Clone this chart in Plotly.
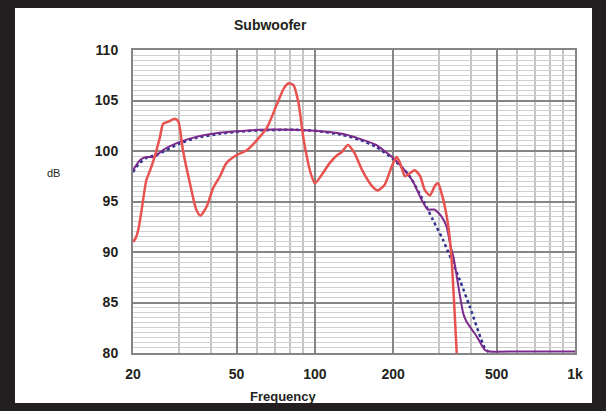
import plotly.graph_objects as go

# ---- data ----
red_freq = [20.0, 20.5, 21.0, 21.6, 22.5, 23.2, 24.2, 25.4, 26.1, 27.3, 29.0, 29.9, 31.1, 33.1, 35.0,
            36.3, 38.4, 40.6, 43.2, 45.7, 50.1, 54.9, 60.0, 65.7, 71.4, 76.0, 79.3, 82.9, 86.6, 90.6,
            96.4, 100, 105.4, 114, 122, 127, 134, 142, 152, 165, 174, 185, 197, 206, 212, 222, 232,
            242, 254, 265, 277, 290, 298, 307, 316, 326, 335, 343, 351]
red_db = [91.0, 91.4, 92.3, 94.2, 97.1, 98.0, 99.4, 101.4, 102.7, 102.9, 103.2, 102.9, 100.1, 96.8, 94.2,
          93.6, 94.5, 96.3, 97.5, 98.8, 99.6, 100.1, 101.1, 102.4, 104.6, 106.2, 106.7, 106.5, 104.7, 101.1,
          97.8, 96.8, 97.5, 98.8, 99.6, 99.9, 100.6, 99.8, 98.1, 96.6, 96.1, 96.6, 98.4, 99.4, 98.9, 97.5, 97.8,
          98.1, 97.5, 96.1, 95.6, 96.6, 96.8, 95.8, 94.5, 92.5, 89.5, 85.0, 80.0]

purple_freq = [20, 21.3, 22.5, 24.2, 26.1, 30.3, 35, 43, 50, 61.5, 83, 100, 127, 149, 172, 200, 218,
               238, 258, 272, 289, 307, 321, 333, 341, 372, 383, 420, 450, 470, 600, 800, 1000]
purple_db = [98.1, 99.1, 99.4, 99.4, 100.1, 100.9, 101.4, 101.8, 101.95, 102.1, 102.1, 102.0, 101.7,
             101.2, 100.6, 99.3, 98.3, 97.0, 95.1, 94.2, 94.2, 93.5, 92.5, 90.5, 89.5, 83.9, 83.1, 81.6,
             80.3, 80.15, 80.15, 80.15, 80.15]

blue_freq = [20, 21, 22.5, 25, 30, 35, 43, 50, 61.5, 83, 100, 127, 149, 172, 200, 230, 262, 284, 311,
             361, 394, 450, 470]
blue_db = [97.9, 98.7, 99.3, 99.7, 100.7, 101.3, 101.7, 101.9, 102.05, 102.1, 102.0, 101.6, 101.1,
           100.4, 99.2, 97.6, 95.0, 93.2, 91.2, 87.2, 84.6, 80.5, 80.0]

x_tickvals = [20, 50, 100, 200, 500, 1000]
x_ticktext = ["20", "50", "100", "200", "500", "1k"]
x_minor = [30, 40, 60, 70, 80, 90, 300, 400, 600, 700, 800, 900]
y_tickvals = [80, 85, 90, 95, 100, 105, 110]

FONT = "Liberation Sans, Arial, sans-serif"
INK = "#231f20"

fig = go.Figure()
fig.add_trace(go.Scatter(x=blue_freq, y=blue_db, mode="lines",
                         line=dict(color="#2e3192", width=2.5, dash="dot", shape="spline", smoothing=0.6),
                         hoverinfo="skip"))
fig.add_trace(go.Scatter(x=purple_freq, y=purple_db, mode="lines",
                         line=dict(color="#7b2a8c", width=2, shape="spline", smoothing=0.5),
                         hoverinfo="skip"))
fig.add_trace(go.Scatter(x=red_freq, y=red_db, mode="lines",
                         line=dict(color="#e8524f", width=2.5, shape="spline", smoothing=0.6),
                         hoverinfo="skip"))

fig.update_layout(
    width=606, height=411,
    margin=dict(l=133, r=31, t=50, b=58),
    paper_bgcolor=INK,
    plot_bgcolor="white",
    showlegend=False,
    shapes=[dict(type="rect", xref="paper", yref="paper",
                 x0=-0.267, x1=1.0385, y0=-0.165, y1=1.139,
                 fillcolor="white", line=dict(width=0), layer="below")],
    annotations=[
        dict(text="Subwoofer", xref="paper", yref="paper", x=0.312, y=1.082,
             showarrow=False, font=dict(family=FONT, size=14, color=INK, weight="bold"),
             xanchor="center", yanchor="middle"),
        dict(text="dB", xref="paper", yref="paper", x=-0.18, y=0.593,
             showarrow=False, font=dict(family=FONT, size=11, color=INK),
             xanchor="center", yanchor="middle"),
        dict(text="Frequency", xref="paper", yref="paper", x=0.34, y=-0.145,
             showarrow=False, font=dict(family=FONT, size=13, color=INK, weight="bold"),
             xanchor="center", yanchor="middle"),
    ],
)

fig.update_xaxes(
    type="log", range=[1.30103, 3.0],
    tickmode="array", tickvals=x_tickvals, ticktext=x_ticktext,
    showgrid=True, gridcolor="#858585", gridwidth=2,
    minor=dict(tickmode="array", tickvals=x_minor, showgrid=True, gridcolor="#c4c4c4", gridwidth=1.5, ticks=""),
    showline=True, linecolor="#858585", linewidth=2, mirror=True,
    ticks="outside", ticklen=7, tickcolor="rgba(0,0,0,0)",
    tickfont=dict(family=FONT, size=14, color=INK, weight="bold"),
    zeroline=False, fixedrange=True,
)
fig.update_yaxes(
    range=[80, 110],
    tickmode="array", tickvals=y_tickvals,
    showgrid=True, gridcolor="#858585", gridwidth=2,
    minor=dict(dtick=0.5, showgrid=True, gridcolor="#cfcfcf", gridwidth=1, ticks=""),
    showline=True, linecolor="#858585", linewidth=2, mirror=True,
    ticks="outside", ticklen=10, tickcolor="rgba(0,0,0,0)",
    tickfont=dict(family=FONT, size=14, color=INK, weight="bold"),
    zeroline=False, fixedrange=True,
)

fig.write_html("out.html", config={"displayModeBar": False},
               post_script="document.body.style.margin='0';document.body.style.overflow='hidden';")
